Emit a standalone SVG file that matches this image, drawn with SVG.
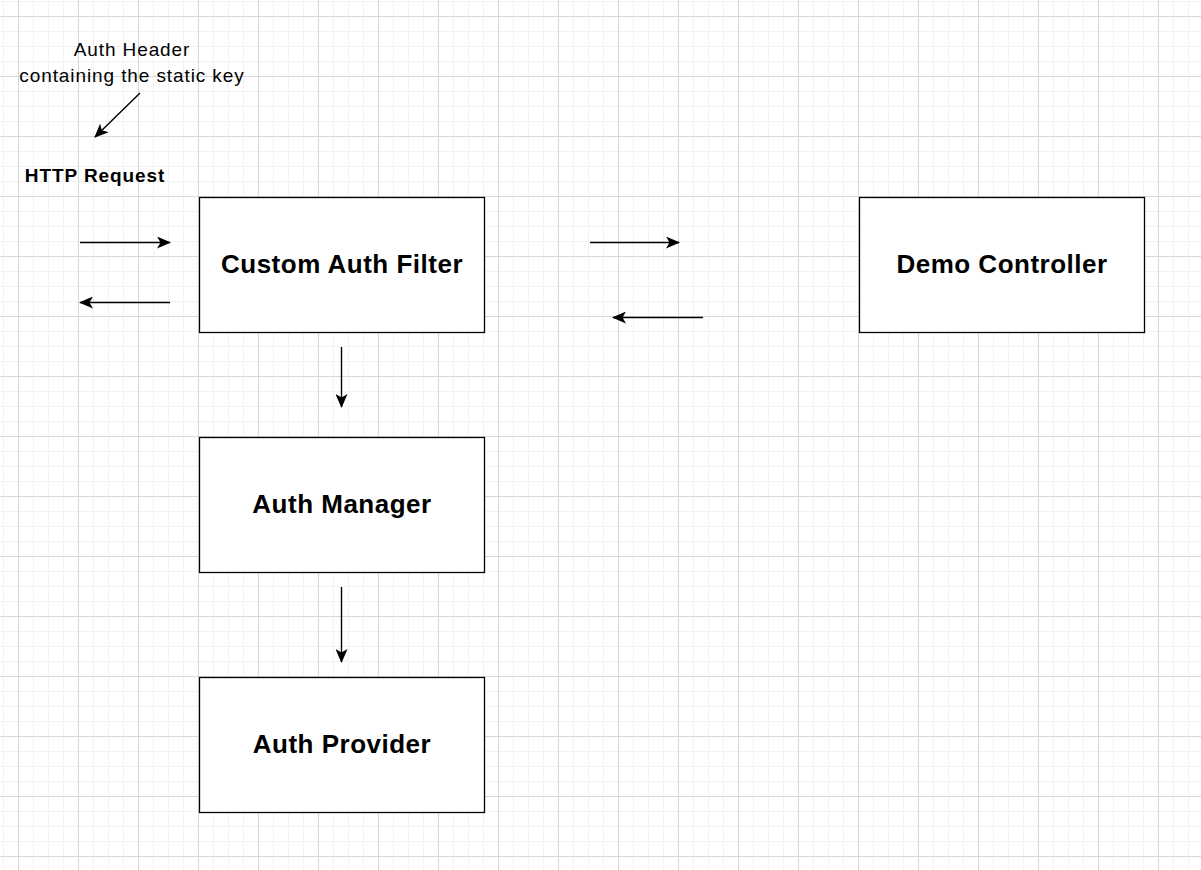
<svg xmlns="http://www.w3.org/2000/svg" width="1201" height="870" viewBox="0 0 1201 870">
<defs>
<pattern id="minor" x="18" y="16" width="15" height="15" patternUnits="userSpaceOnUse">
<path d="M0.5 0V15M0 0.5H15" stroke="#f2f2f2" stroke-width="1" fill="none"/>
</pattern>
<pattern id="major" x="18" y="16" width="60" height="60" patternUnits="userSpaceOnUse">
<path d="M0.5 0V60M0 0.5H60" stroke="#d8d8d8" stroke-width="1" fill="none"/>
</pattern>
<marker id="ah" viewBox="0 0 14 12" refX="13" refY="6" markerWidth="14" markerHeight="12" markerUnits="userSpaceOnUse" orient="auto">
<path d="M0 0L14 6L0 12L3.5 6Z" fill="#000"/>
</marker>
<style>
.box{fill:#fff;stroke:#000;stroke-width:1.3}
.lbl{font-family:"Liberation Sans",Arial,sans-serif;font-weight:bold;font-size:26px;letter-spacing:0.5px;text-anchor:middle;fill:#000}
.conn{stroke:#000;stroke-width:1.4;fill:none;marker-end:url(#ah)}
.note{font-family:"Liberation Sans",Arial,sans-serif;font-size:19px;letter-spacing:0.9px;text-anchor:middle;fill:#000}
.bnote{font-family:"Liberation Sans",Arial,sans-serif;font-weight:bold;font-size:19px;letter-spacing:0.9px;text-anchor:middle;fill:#000}
</style>
</defs>
<rect width="1201" height="870" fill="#fff"/>
<rect width="1201" height="870" fill="url(#minor)"/>
<rect width="1201" height="870" fill="url(#major)"/>

<g id="connectors">
<path class="conn" d="M80 242.5H170"/>
<path class="conn" d="M170 302.5H80"/>
<path class="conn" d="M590 242.5H679"/>
<path class="conn" d="M703 317.5H613"/>
<path class="conn" d="M341.5 347V407"/>
<path class="conn" d="M341.5 587V662"/>
<path class="conn" d="M140 93L95 137"/>
</g>

<g id="note-auth-header">
<text class="note" x="132" y="56">Auth Header</text>
<text class="note" x="132" y="82">containing the static key</text>
</g>
<g id="note-http-request">
<text class="bnote" x="95" y="181.5">HTTP Request</text>
</g>

<g id="custom-auth-filter">
<rect class="box" x="199.5" y="197.5" width="285" height="135"/>
<text class="lbl" x="342" y="272.5">Custom Auth Filter</text>
</g>
<g id="demo-controller">
<rect class="box" x="859.5" y="197.5" width="285" height="135"/>
<text class="lbl" x="1002" y="272.5">Demo Controller</text>
</g>
<g id="auth-manager">
<rect class="box" x="199.5" y="437.5" width="285" height="135"/>
<text class="lbl" x="342" y="512.5">Auth Manager</text>
</g>
<g id="auth-provider">
<rect class="box" x="199.5" y="677.5" width="285" height="135"/>
<text class="lbl" x="342" y="752.5">Auth Provider</text>
</g>
</svg>
